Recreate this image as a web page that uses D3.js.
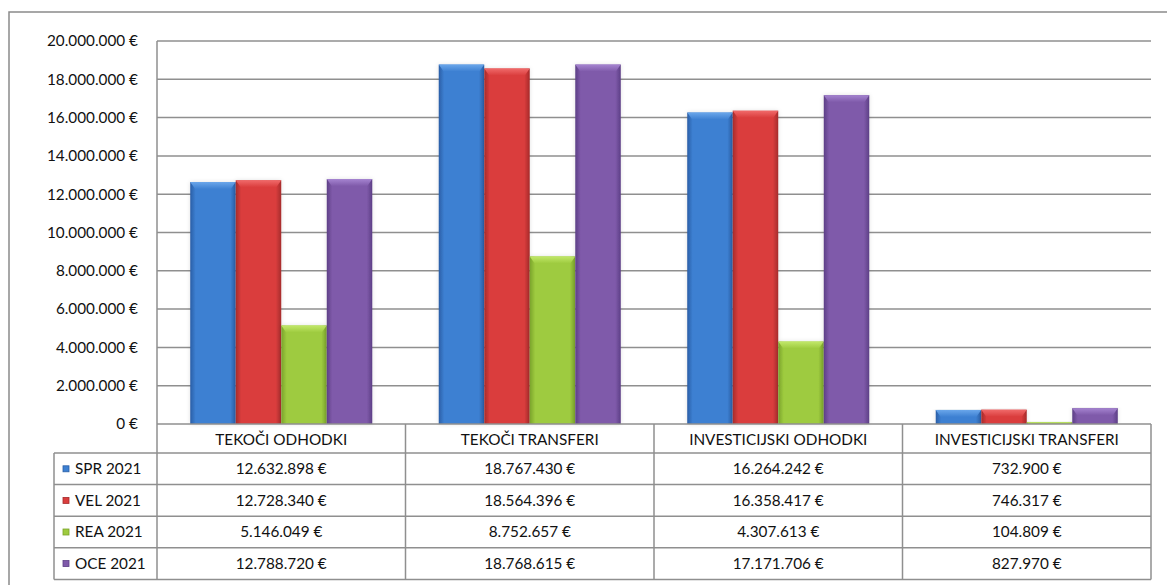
<!DOCTYPE html>
<html>
<head>
<meta charset="utf-8">
<script src="https://cdn.jsdelivr.net/npm/d3@7"></script>
<style>
  body { margin: 0; background: #fff; }
  svg { display: block; font-family: Lato, "Liberation Sans", sans-serif; }
</style>
</head>
<body>
<svg width="1167" height="585"></svg>
<script>
// chart data: categories, series names and their values
var categories = ["TEKOČI ODHODKI", "TEKOČI TRANSFERI", "INVESTICIJSKI ODHODKI", "INVESTICIJSKI TRANSFERI"];
var seriesNames = ["SPR 2021", "VEL 2021", "REA 2021", "OCE 2021"];
var spr = [12632898, 18767430, 16264242, 732900];
var vel = [12728340, 18564396, 16358417, 746317];
var rea = [5146049, 8752657, 4307613, 104809];
var oce = [12788720, 18768615, 17171706, 827970];
var yTicks = [0, 2e6, 4e6, 6e6, 8e6, 10e6, 12e6, 14e6, 16e6, 18e6, 20e6];

var seriesValues = [spr, vel, rea, oce];
var colors = [
  {base: "#3d80d2", light: "#6aa6ea", dark: "#2a5ea6"},
  {base: "#da3d3d", light: "#f06a6a", dark: "#a52b2b"},
  {base: "#9ecb3f", light: "#c2e86a", dark: "#7aa32b"},
  {base: "#7f5aaa", light: "#a584d0", dark: "#5d3f86"}
];

// slovenian style numbers: 12.632.898 €
var sl = d3.formatLocale({decimal: ",", thousands: ".", grouping: [3], currency: ["", " €"]});
var fmt = sl.format("$,.0f");

var svg = d3.select("svg");
var plotLeft = 157, plotRight = 1151, plotTop = 41, zero = 424;
var headH = 29, rowH = 31.6, legendLeft = 54;
var gridColor = "#8f8f8f";
var fontSize = 15.3;

// outer chart border (runs off the right and bottom of the picture)
svg.append("rect")
  .attr("x", 9).attr("y", 12)
  .attr("width", 1200).attr("height", 620)
  .attr("fill", "none").attr("stroke", "#8a8a8a").attr("stroke-width", 1.5);

var x0 = d3.scaleBand().domain(categories).range([plotLeft, plotRight]).padding(0);
var barW = x0.bandwidth() / (4 + 1.46); // excel gap width ~146%
var x1 = d3.scaleBand().domain(seriesNames)
  .range([barW * 0.73, x0.bandwidth() - barW * 0.73]).padding(0);
var y = d3.scaleLinear().domain([0, 20e6]).range([zero, plotTop]);

// gradients for the bevelled bars
var defs = svg.append("defs");
colors.forEach(function(c, i) {
  var g = defs.append("linearGradient").attr("id", "body" + i)
    .attr("x1", 0).attr("x2", 1).attr("y1", 0).attr("y2", 0);
  g.append("stop").attr("offset", "0%").attr("stop-color", c.dark);
  g.append("stop").attr("offset", "12%").attr("stop-color", c.base);
  g.append("stop").attr("offset", "88%").attr("stop-color", c.base);
  g.append("stop").attr("offset", "100%").attr("stop-color", c.dark);
  var t = defs.append("linearGradient").attr("id", "cap" + i)
    .attr("x1", 0).attr("x2", 0).attr("y1", 0).attr("y2", 1);
  t.append("stop").attr("offset", "0%").attr("stop-color", c.light);
  t.append("stop").attr("offset", "100%").attr("stop-color", c.base);
});
var shadow = defs.append("filter").attr("id", "soft")
  .attr("x", "-20%").attr("y", "-5%").attr("width", "140%").attr("height", "110%");
shadow.append("feDropShadow").attr("dx", 0).attr("dy", 0)
  .attr("stdDeviation", 2).attr("flood-color", "#000").attr("flood-opacity", 0.12);

// gridlines and value axis
svg.append("g").selectAll("line")
  .data(yTicks.slice(1))
  .enter().append("line")
  .attr("x1", plotLeft).attr("x2", plotRight)
  .attr("y1", function(d) { return y(d); })
  .attr("y2", function(d) { return y(d); })
  .attr("stroke", gridColor).attr("stroke-width", 1.5);

svg.append("line")
  .attr("x1", plotLeft).attr("x2", plotLeft).attr("y1", plotTop).attr("y2", zero)
  .attr("stroke", gridColor).attr("stroke-width", 1.5);

svg.append("g").selectAll("text")
  .data(yTicks)
  .enter().append("text")
  .attr("x", 138)
  .attr("y", function(d) { return y(d); })
  .attr("dy", "0.35em")
  .attr("text-anchor", "end")
  .attr("font-size", fontSize)
  .attr("fill", "#111")
  .text(function(d) { return fmt(d); });

// bars
var groups = svg.append("g").selectAll("g")
  .data(categories)
  .enter().append("g")
  .attr("transform", function(d) { return "translate(" + x0(d) + ",0)"; });

var bars = groups.selectAll("g.bar")
  .data(function(d, ci) {
    return seriesNames.map(function(s, si) {
      return {series: s, si: si, value: seriesValues[si][ci]};
    });
  })
  .enter().append("g")
  .classed("bar", true);

bars.append("rect")
  .attr("x", function(d) { return x1(d.series); })
  .attr("y", function(d) { return y(d.value); })
  .attr("width", x1.bandwidth())
  .attr("height", function(d) { return zero - y(d.value); })
  .attr("fill", function(d) { return "url(#body" + d.si + ")"; })
  .attr("filter", "url(#soft)");

// little lighter cap on top of each bar
bars.append("path")
  .attr("d", function(d) {
    var bx = x1(d.series), bw = x1.bandwidth(), by = y(d.value);
    var h = Math.min(7, zero - by);
    var inset = Math.min(5, h);
    return "M" + bx + "," + by + "L" + (bx + bw) + "," + by +
      "L" + (bx + bw - inset) + "," + (by + h) + "L" + (bx + inset) + "," + (by + h) + "Z";
  })
  .attr("fill", function(d) { return "url(#cap" + d.si + ")"; });

// data table below the plot
var table = svg.append("g");
var tableBottom = zero + headH + rowH * seriesNames.length;

// horizontal rules
var hLines = [zero + headH];
seriesNames.forEach(function(s, i) { hLines.push(zero + headH + rowH * (i + 1)); });
table.selectAll("line.h")
  .data(hLines)
  .enter().append("line")
  .attr("x1", legendLeft).attr("x2", plotRight)
  .attr("y1", function(d) { return d; }).attr("y2", function(d) { return d; })
  .attr("stroke", gridColor).attr("stroke-width", 1.5);

table.append("line")
  .attr("x1", plotLeft).attr("x2", plotRight).attr("y1", zero).attr("y2", zero)
  .attr("stroke", gridColor).attr("stroke-width", 1.5);

// vertical rules
var vLines = categories.map(function(c) { return x0(c); }).concat([plotRight]);
table.selectAll("line.v")
  .data(vLines)
  .enter().append("line")
  .attr("x1", function(d) { return d; }).attr("x2", function(d) { return d; })
  .attr("y1", zero).attr("y2", tableBottom)
  .attr("stroke", gridColor).attr("stroke-width", 1.5);

table.append("line")
  .attr("x1", legendLeft).attr("x2", legendLeft)
  .attr("y1", zero + headH).attr("y2", tableBottom)
  .attr("stroke", gridColor).attr("stroke-width", 1.5);

// category headers
table.selectAll("text.cat")
  .data(categories)
  .enter().append("text")
  .attr("x", function(d) { return x0(d) + x0.bandwidth() / 2; })
  .attr("y", zero + headH / 2 + 1)
  .attr("dy", "0.35em")
  .attr("text-anchor", "middle")
  .attr("font-size", fontSize)
  .attr("fill", "#111")
  .text(function(d) { return d; });

// legend keys and values per row
var rows = table.selectAll("g.row")
  .data(seriesNames)
  .enter().append("g")
  .attr("transform", function(d, i) {
    return "translate(0," + (zero + headH + rowH * i + rowH / 2) + ")";
  });

rows.append("rect")
  .attr("x", 63).attr("y", -3)
  .attr("width", 6).attr("height", 6)
  .attr("fill", function(d, i) { return colors[i].base; })
  .attr("stroke", function(d, i) { return colors[i].dark; })
  .attr("stroke-width", 0.8);

rows.append("text")
  .attr("x", 75).attr("dy", "0.35em")
  .attr("font-size", fontSize)
  .attr("fill", "#111")
  .text(function(d) { return d; });

rows.selectAll("text.val")
  .data(function(d, i) { return seriesValues[i]; })
  .enter().append("text")
  .attr("x", function(d, ci) { return x0(categories[ci]) + x0.bandwidth() / 2; })
  .attr("dy", "0.35em")
  .attr("text-anchor", "middle")
  .attr("font-size", fontSize)
  .attr("fill", "#111")
  .text(function(d) { return fmt(d); });
</script>
</body>
</html>
